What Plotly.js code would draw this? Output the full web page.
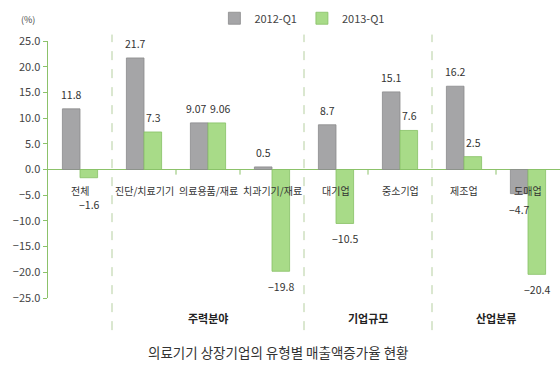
<!DOCTYPE html>
<html><head><meta charset="utf-8">
<script src="https://cdn.plot.ly/plotly-3.0.1.min.js"></script>
<style>body{margin:0;background:#fff}#c{width:560px;height:374px}</style>
</head><body><div id="c"></div>
<script>
var categories = ['전체','진단/치료기기','의료용품/재료','치과기기/재료','대기업','중소기업','제조업','도매업'];
var series2012 = [11.8, 21.7, 9.07, 0.5, 8.7, 15.1, 16.2, -4.7];
var series2013 = [-1.6, 7.3, 9.06, -19.8, -10.5, 7.6, 2.5, -20.4];
var seriesNames = ['2012-Q1','2013-Q1'];
var groupLabels = ['주력분야','기업규모','산업분류'];
var groupSpans = [[1,3],[4,5],[6,7]];
var dividers = [0.5, 3.5, 5.5];
var tickBounds = [1.5, 2.5, 4.5, 6.5];
var yTicks = [25,20,15,10,5,0,-5,-10,-15,-20,-25];
var title = '의료기기 상장기업의 유형별 매출액증가율 현황';

var KR = '"Noto Sans CJK KR", "Noto Sans", sans-serif';
var NUM = '"Liberation Sans Narrow", "Noto Sans CJK KR", sans-serif';
var fmt = function(v){ return (v<0?'\u2212':'') + String(Math.abs(v)); };

var traces = [
  {type:'bar', name:seriesNames[0], x:categories, y:series2012,
   marker:{color:'#a5a5a7', line:{color:'#8a8a8c', width:0.8}}, hoverinfo:'none'},
  {type:'bar', name:seriesNames[1], x:categories, y:series2013,
   marker:{color:'#a8db88', line:{color:'#86c064', width:0.8}}, hoverinfo:'none'}
];

var ann = [];
categories.forEach(function(c,i){
  ann.push({x:i, y:0, xref:'x', yref:'y', text:c, showarrow:false, yanchor:'middle', yshift:-21,
    font:{family:KR, size:10, color:'#333'}});
});
function addLabels(vals, other, dir){
  vals.forEach(function(v,i){
    var extra = (v<0 && v>-3) ? -11 : 0;
    var close = Math.abs(v - other[i]) < 2 && v > 0;
    ann.push({x:i, y:v, xref:'x', yref:'y', text:fmt(v), showarrow:false,
      xshift:dir*(close?12:9), yanchor: v>=0?'bottom':'top', yshift: (v>=0?5:-6)+extra,
      font:{family:NUM, size:10.5, color:'#333'}});
  });
}
addLabels(series2012, series2013, -1);
addLabels(series2013, series2012, 1);
groupLabels.forEach(function(g,i){
  ann.push({x:(groupSpans[i][0]+groupSpans[i][1])/2, y:-0.078, xref:'x', yref:'paper', text:'<b>'+g+'</b>',
    showarrow:false, yanchor:'middle', font:{family:KR, size:11, color:'#222'}});
});
ann.push({x:-0.04, y:1.082, xref:'paper', yref:'paper', text:'(%)', showarrow:false,
  xanchor:'center', yanchor:'middle', font:{family:KR, size:9, color:'#444'}});
ann.push({x:0.45, y:-0.21, xref:'paper', yref:'paper', text:title, showarrow:false,
  font:{family:KR, size:13.5, color:'#333'}, yanchor:'middle'});

var shapes = [];
dividers.forEach(function(d){
  shapes.push({type:'line', xref:'x', yref:'paper', x0:d, x1:d, y0:-0.125, y1:1.025,
    line:{color:'#b5cfa0', width:1, dash:'dash'}});
});
tickBounds.forEach(function(d){
  shapes.push({type:'line', xref:'x', yref:'y', x0:d, x1:d, y0:0, y1:-1,
    line:{color:'#8cc26a', width:1}});
});

var layout = {
  width:560, height:374,
  margin:{l:48, r:0, t:41, b:76},
  paper_bgcolor:'#fff', plot_bgcolor:'#fff',
  barmode:'group', bargap:0.45, bargroupgap:0,
  showlegend:true,
  legend:{orientation:'h', x:0.325, y:1.145, xanchor:'left', yanchor:'top',
    font:{family:NUM, size:11, color:'#444'}, itemwidth:30, tracegroupgap:0},
  xaxis:{range:[-0.5,7.5], showticklabels:false, showgrid:false, zeroline:false, showline:false, ticks:''},
  yaxis:{range:[-25,25], tickvals:yTicks, tickformat:'.1f', showgrid:false,
    zeroline:true, zerolinecolor:'#8cc26a', zerolinewidth:1.5,
    showline:true, linecolor:'#8cc26a', linewidth:1.5, ticks:'outside', ticklen:4, tickcolor:'#8cc26a',
    tickfont:{family:NUM, size:11, color:'#444'}},
  annotations:ann, shapes:shapes
};
Plotly.newPlot('c', traces, layout, {displayModeBar:false, staticPlot:true});
</script></body></html>
